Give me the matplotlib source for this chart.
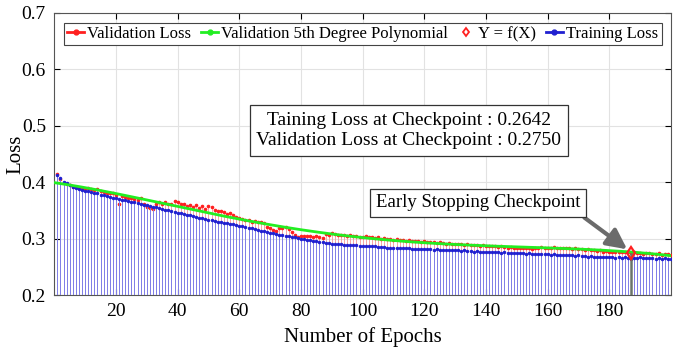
import numpy as np
import matplotlib
matplotlib.use("Agg")
import matplotlib.pyplot as plt
from matplotlib.lines import Line2D

plt.rcParams['font.family'] = ['Liberation Serif', 'DejaVu Serif']

epochs = list(range(1, 201))

train_loss = [
    0.412, 0.408, 0.401, 0.398, 0.395, 0.392, 0.390, 0.388, 0.386, 0.385,
    0.384, 0.383, 0.381, 0.380, 0.378, 0.377, 0.375, 0.374, 0.372, 0.371,
    0.370, 0.369, 0.368, 0.366, 0.365, 0.364, 0.363, 0.362, 0.360, 0.359,
    0.358, 0.356, 0.355, 0.354, 0.352, 0.351, 0.350, 0.349, 0.347, 0.346,
    0.345, 0.344, 0.342, 0.341, 0.340, 0.339, 0.337, 0.336, 0.335, 0.333,
    0.332, 0.331, 0.330, 0.329, 0.328, 0.327, 0.326, 0.325, 0.324, 0.323,
    0.322, 0.320, 0.319, 0.318, 0.317, 0.315, 0.314, 0.313, 0.311, 0.310,
    0.309, 0.308, 0.307, 0.306, 0.305, 0.304, 0.303, 0.302, 0.301, 0.300,
    0.299, 0.298, 0.297, 0.296, 0.295, 0.294, 0.293, 0.292, 0.292, 0.291,
    0.291, 0.290, 0.290, 0.289, 0.289, 0.288, 0.288, 0.288, 0.287, 0.287,
    0.287, 0.286, 0.286, 0.286, 0.285, 0.285, 0.285, 0.284, 0.284, 0.284,
    0.284, 0.283, 0.283, 0.283, 0.283, 0.282, 0.282, 0.282, 0.282, 0.281,
    0.281, 0.281, 0.280, 0.281, 0.280, 0.280, 0.279, 0.280, 0.279, 0.279,
    0.279, 0.278, 0.279, 0.278, 0.278, 0.277, 0.278, 0.277, 0.277, 0.277,
    0.276, 0.277, 0.276, 0.276, 0.275, 0.276, 0.275, 0.275, 0.274, 0.275,
    0.274, 0.274, 0.273, 0.274, 0.273, 0.273, 0.272, 0.273, 0.272, 0.272,
    0.271, 0.272, 0.271, 0.271, 0.270, 0.271, 0.270, 0.270, 0.269, 0.270,
    0.269, 0.269, 0.268, 0.269, 0.268, 0.268, 0.267, 0.268, 0.267, 0.268,
    0.267, 0.266, 0.267, 0.266, 0.267, 0.266, 0.2642, 0.266, 0.266, 0.267,
    0.266, 0.265, 0.266, 0.265, 0.264, 0.265, 0.264, 0.265, 0.263, 0.264,
]

val_loss = [
    0.414, 0.405, 0.398, 0.396, 0.394, 0.392, 0.391, 0.389, 0.390, 0.388,
    0.389, 0.387, 0.386, 0.388, 0.384, 0.382, 0.380, 0.381, 0.380, 0.378,
    0.362, 0.375, 0.374, 0.372, 0.371, 0.370, 0.368, 0.371, 0.362, 0.355,
    0.354, 0.353, 0.361, 0.364, 0.362, 0.365, 0.362, 0.361, 0.366, 0.364,
    0.362, 0.361, 0.358, 0.360, 0.356, 0.359, 0.354, 0.357, 0.353, 0.357,
    0.356, 0.350, 0.349, 0.349, 0.347, 0.344, 0.345, 0.341, 0.339, 0.337,
    0.334, 0.332, 0.333, 0.330, 0.331, 0.329, 0.330, 0.327, 0.320, 0.318,
    0.316, 0.314, 0.319, 0.318, 0.320, 0.317, 0.311, 0.307, 0.303, 0.304,
    0.305, 0.304, 0.304, 0.303, 0.305, 0.303, 0.301, 0.308, 0.306, 0.309,
    0.308, 0.307, 0.306, 0.307, 0.305, 0.306, 0.304, 0.305, 0.303, 0.303,
    0.304, 0.302, 0.303, 0.301, 0.302, 0.300, 0.301, 0.299, 0.300, 0.298,
    0.299, 0.297, 0.298, 0.296, 0.297, 0.296, 0.295, 0.296, 0.294, 0.295,
    0.294, 0.293, 0.294, 0.292, 0.293, 0.292, 0.291, 0.292, 0.291, 0.290,
    0.291, 0.290, 0.289, 0.290, 0.288, 0.289, 0.288, 0.287, 0.288, 0.287,
    0.286, 0.287, 0.286, 0.285, 0.286, 0.285, 0.284, 0.285, 0.284, 0.283,
    0.284, 0.283, 0.284, 0.283, 0.282, 0.283, 0.284, 0.285, 0.284, 0.283,
    0.284, 0.285, 0.284, 0.283, 0.284, 0.283, 0.284, 0.282, 0.283, 0.282,
    0.281, 0.280, 0.281, 0.279, 0.280, 0.278, 0.279, 0.277, 0.278, 0.277,
    0.277, 0.276, 0.277, 0.276, 0.277, 0.276, 0.2750, 0.276, 0.275, 0.274,
    0.273, 0.275, 0.274, 0.272, 0.273, 0.274, 0.271, 0.272, 0.273, 0.271,
]

checkpoint_epoch = 187
checkpoint_train = 0.2642
checkpoint_val = 0.2750

x_ticks = [20, 40, 60, 80, 100, 120, 140, 160, 180]
y_ticks = [0.2, 0.3, 0.4, 0.5, 0.6, 0.7]

W, H = 677, 352
fig = plt.figure(figsize=(W / 100, H / 100), dpi=100)
ax = fig.add_axes([54.3 / W, 1 - 295 / H, (671 - 54.3) / W, (295 - 12.7) / H])

ep = np.array(epochs)
tr = np.array(train_loss)
va = np.array(val_loss)

base = 0.2
red = '#ff2020'
blue = '#2020d0'
green = '#22ee22'

# validation stems
ax.vlines(ep, base, va, colors='#f7a4a4', linewidth=0.7, zorder=2)
ax.plot(ep, va, linestyle='none', marker='.', color=red, markersize=3.2, zorder=3)
# training stems
ax.vlines(ep, base, tr, colors='#7e7eea', linewidth=0.7, zorder=4)
ax.plot(ep, tr, linestyle='none', marker='.', color=blue, markersize=3, zorder=5)

# 5th degree polynomial fit of validation loss
coef = np.polyfit(ep, va, 5)
xf = np.linspace(0, 200, 400)
ax.plot(xf, np.polyval(coef, xf), color=green, linewidth=2.0, zorder=6)

# checkpoint
ax.vlines([checkpoint_epoch], base, checkpoint_val, colors='#6a746a', linewidth=1.8, zorder=7)
ax.plot([checkpoint_epoch], [checkpoint_val], linestyle='none', marker='d', markersize=6,
        markerfacecolor='none', markeredgecolor=red, markeredgewidth=1.6, zorder=8)

ax.set_xlim(0, 200)
ax.set_ylim(0.2, 0.7)
ax.set_xticks(x_ticks)
ax.set_yticks(y_ticks)
ax.set_yticklabels([f"{v:.1f}" for v in y_ticks])
ax.tick_params(direction='in', top=True, right=True, labelsize=14, length=4, width=0.8, pad=6)
ax.grid(True, color='#e2e2e2', linewidth=0.8, zorder=0)
ax.set_axisbelow(True)
for s in ax.spines.values():
    s.set_color('#555555')
    s.set_linewidth(0.8)

ax.set_xlabel('Number of Epochs', fontsize=15, labelpad=5)
ax.set_ylabel('Loss', fontsize=15)
ax.yaxis.set_label_coords(-29.0 / (671 - 54.3), 0.5)

# legend
handles = [
    Line2D([], [], color=red, marker='.', markersize=7, linewidth=2),
    Line2D([], [], color=green, marker='.', markersize=7, linewidth=2),
    Line2D([], [], color=red, marker='d', markersize=4.5, markerfacecolor='none', linestyle='none', markeredgewidth=1.3),
    Line2D([], [], color=blue, marker='.', markersize=7, linewidth=2),
]
labels = ['Validation Loss', 'Validation 5th Degree Polynomial', 'Y = f(X)', 'Training Loss']
leg = ax.legend(handles, labels, loc='upper left', bbox_to_anchor=(0.0155, 0.965), ncol=4,
                fontsize=12, handlelength=1.0, handletextpad=0.2, columnspacing=0.6,
                borderpad=0.2, borderaxespad=0.0, fancybox=False, edgecolor='#444444',
                framealpha=1.0)
leg.get_frame().set_linewidth(0.8)

# info box
ax.text(115, 0.492, 'Taining Loss at Checkpoint : 0.2642\nValidation Loss at Checkpoint : 0.2750',
        ha='center', va='center', fontsize=14, linespacing=1.25, zorder=10,
        bbox=dict(boxstyle='square,pad=0.35', facecolor='white', edgecolor='#333333', linewidth=0.9))

# early stopping annotation
ax.annotate('Early Stopping Checkpoint', xy=(checkpoint_epoch - 0.5, checkpoint_val + 0.003),
            xytext=(137.4, 0.363), ha='center', va='center', fontsize=13.5, zorder=10,
            bbox=dict(boxstyle='square,pad=0.3', facecolor='white', edgecolor='#333333', linewidth=0.9),
            arrowprops=dict(arrowstyle='-|>,head_length=0.9,head_width=0.45', color='#6b6b6b',
                            lw=3, relpos=(0.98, 0.0), shrinkA=0, shrinkB=2))

fig.savefig('out.png', dpi=100)
